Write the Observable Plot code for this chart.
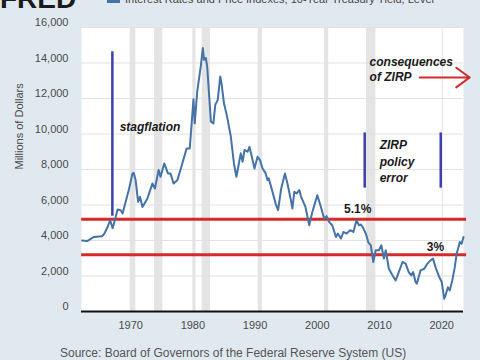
<!DOCTYPE html>
<html>
<head>
<meta charset="utf-8">
<script src="https://cdn.jsdelivr.net/npm/d3@7"></script>
<script src="https://cdn.jsdelivr.net/npm/@observablehq/plot@0.6"></script>
<style>
  html, body { margin: 0; padding: 0; background: #e1e9f0; }
  #wrap { position: relative; width: 480px; height: 360px; overflow: hidden; background: #e1e9f0; font-family: "Liberation Sans", Arial, sans-serif; }
  #chart { position: absolute; left: 0; top: 0; }
  #logo { position: absolute; left: 0; top: -15px; font: 900 28px/28px "Liberation Sans", Arial, sans-serif; color: #1b1b1b; letter-spacing: 0px; }
  #legline { position: absolute; left: 107px; top: 0px; width: 13px; height: 3px; background: #4572a7; }
  #legtext { position: absolute; left: 125px; top: -7px; font: 11px/12px "Liberation Sans", Arial, sans-serif; color: #444; white-space: nowrap; }
  #source { position: absolute; left: 60px; top: 346px; font: 12px/14px "Liberation Sans", Arial, sans-serif; color: #555; white-space: nowrap; }
</style>
</head>
<body>
<div id="wrap">
  <div id="chart"></div>
  <div id="logo">FRED</div>
  <div id="legline"></div>
  <div id="legtext">Interest Rates and Price Indexes; 10-Year Treasury Yield, Level</div>
  <div id="source">Source: Board of Governors of the Federal Reserve System (US)</div>
</div>
<script>
// Series
const years = [1962.2,1963.0,1964.1,1965.4,1965.8,1966.3,1966.7,1967.1,1967.6,1967.9,1968.4,1968.7,1969.2,1969.7,1970.3,1970.5,1970.8,1971.2,1971.5,1971.9,1972.7,1973.5,1973.9,1974.5,1974.8,1975.4,1976.0,1976.4,1976.9,1977.5,1978.0,1979.0,1979.5,1980.1,1980.3,1980.7,1981.3,1981.6,1981.8,1982.1,1982.3,1982.9,1983.3,1983.6,1984.0,1984.4,1984.6,1985.0,1985.5,1986.1,1986.6,1987.0,1987.4,1987.7,1988.0,1988.3,1988.8,1989.1,1989.6,1989.9,1990.4,1990.8,1991.2,1991.7,1992.0,1992.2,1992.8,1993.3,1993.7,1994.2,1994.8,1995.2,1995.7,1996.0,1996.3,1996.7,1997.1,1997.4,1998.1,1998.7,1999.2,2000.0,2000.5,2001.1,2001.5,2001.9,2002.4,2003.0,2003.3,2003.8,2004.2,2004.7,2005.3,2005.8,2006.3,2006.7,2007.0,2007.3,2007.8,2008.2,2008.6,2009.0,2009.4,2009.9,2010.3,2010.7,2011.0,2011.5,2012.1,2012.6,2013.1,2013.7,2014.2,2014.7,2015.1,2015.4,2015.8,2016.0,2016.6,2017.2,2017.7,2018.2,2018.6,2019.0,2019.6,2020.0,2020.4,2020.6,2021.0,2021.3,2021.7,2022.1,2022.4,2022.7,2022.9,2023.2,2023.5];
const values = [4000,3970,4200,4240,4400,4760,5140,4690,5330,5750,5700,5520,6180,6840,7780,7800,7400,6180,6460,5890,6370,7210,6930,7970,7590,8340,7780,7780,7210,7400,7970,9190,9190,11960,10600,12390,13900,14840,14180,14280,13800,10700,10600,11640,11920,13240,12860,11730,10980,9850,8340,7590,8340,8910,8440,9100,9000,9280,8530,8060,8720,8530,8060,7780,7400,7500,6740,6080,5710,6930,7780,7210,6370,5800,6740,6650,6840,6460,5890,4860,5610,6550,5990,5240,5370,5050,4860,4200,4390,4110,4480,4390,4580,4480,5140,4860,4900,4760,4390,3900,3730,2790,3450,3450,3730,2980,3450,2410,2030,1750,2220,2790,2700,2220,2030,2220,1660,1570,2320,2410,2700,2880,2980,2500,1940,1660,720,900,1370,1190,1750,2500,3260,3630,3920,3820,4200];

// Recessions (shaded)
const recStart = [1969.92, 1973.83, 1980.0, 1981.5, 1990.5, 2001.17, 2007.92, 2020.08];
const recEnd   = [1970.83, 1975.17, 1980.5, 1982.83, 1991.17, 2001.83, 2009.42, 2020.25];

// Axis ticks
const xTicks = [1970, 1980, 1990, 2000, 2010, 2020];
const yTicks = [0, 2000, 4000, 6000, 8000, 10000, 12000, 14000, 16000];

// Annotations (data coordinates)
const levelValues = [5200, 3200];
const levelSpan = [1962.12, 2024.0];
const levelLabels = ["5.1%", "3%"];
const levelLabelX = [2006.5, 2019.0];
const levelLabelY = [5760, 3620];

const markerX  = [1967.06, 2007.62, 2019.84];
const markerY1 = [5370, 6950, 6950];
const markerY2 = [14630, 10060, 10060];

const noteText = ["stagflation", "consequences", "of ZIRP", "ZIRP", "policy", "error"];
const noteX    = [1968.23, 2008.4, 2008.4, 2010.03, 2010.03, 2010.03];
const noteY    = [10400, 14030, 13180, 9380, 8440, 7500];

const arrowX = [2016.46, 2024.5];
const arrowY = 13180;

const series = years.map((y, i) => ({year: y, value: values[i]}));
const recessions = recStart.map((s, i) => ({start: s, end: recEnd[i]}));
const idx3 = d3.range(markerX.length);
const idxN = d3.range(noteText.length);
const idxL = d3.range(levelLabels.length);

const chart = Plot.plot({
  width: 480,
  height: 360,
  marginTop: 27,
  marginBottom: 49,
  marginLeft: 81,
  marginRight: 17,
  style: {background: "transparent", fontFamily: "'Liberation Sans', Arial, sans-serif", fontSize: "11px", color: "#4a4a4a", overflow: "visible"},
  x: {domain: [1962.1, 2023.5]},
  y: {domain: [0, 16000]},
  marks: [
    Plot.frame({fill: "white", stroke: null}),
    Plot.rect(recessions, {x1: "start", x2: "end", fill: "#e4e4e4"}),
    Plot.gridY(yTicks, {stroke: "#e2e2e2", strokeOpacity: 1}),
    Plot.axisY({ticks: yTicks, tickSize: 0, tickPadding: 13, dy: -5, tickFormat: d3.format(","), label: null}),
    Plot.axisX({ticks: xTicks, tickSize: 0, tickPadding: 10, tickFormat: d => String(d), label: null}),
    Plot.text(["Millions of Dollars"], {frameAnchor: "left", dx: -62, rotate: -90, fill: "#4a4a4a", fontSize: 11}),
    Plot.ruleY([0], {stroke: "#111", strokeWidth: 2}),
    Plot.ruleY(levelValues, {y: d => d, x1: levelSpan[0], x2: levelSpan[1], stroke: "#d42a2a", strokeWidth: 3}),
    Plot.line(series, {x: "year", y: "value", stroke: "#4572a7", strokeWidth: 2, curve: "linear"}),
    Plot.ruleX(idx3, {x: i => markerX[i], y1: i => markerY1[i], y2: i => markerY2[i], stroke: "#3d3fae", strokeWidth: 2.5}),
    Plot.arrow([0], {x1: arrowX[0], x2: arrowX[1], y1: arrowY, y2: arrowY, stroke: "#d42a2a", strokeWidth: 2, headLength: 13, headAngle: 72}),
    Plot.text(idxN, {x: i => noteX[i], y: i => noteY[i], text: i => noteText[i], textAnchor: "start", fontWeight: "bold", fontStyle: "italic", fontSize: 12, fill: "#1a1a1a"}),
    Plot.text(idxL, {x: i => levelLabelX[i], y: i => levelLabelY[i], text: i => levelLabels[i], fontWeight: "bold", fontSize: 12, fill: "#1a1a1a"})
  ]
});
document.getElementById("chart").appendChild(chart);
</script>
</body>
</html>
